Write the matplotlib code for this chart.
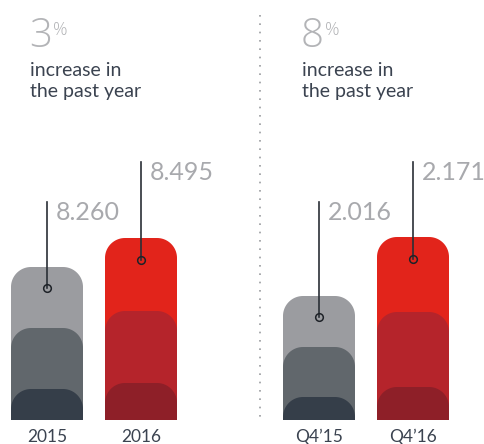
import numpy as np
import matplotlib
matplotlib.use("Agg")
import matplotlib.pyplot as plt
from matplotlib.patches import Polygon

plt.rcParams['font.family'] = ['Lato', 'DejaVu Sans']

# data: two panels, each with previous / current period
categories = ["2015", "2016", "Q4\u201915", "Q4\u201916"]
values = ["8.260", "8.495", "2.016", "2.171"]
headline_pct = ["3", "8"]
# stacked layer tops (drawing units, measured from baseline)
layer_total = [153, 182, 124, 183]
layer_mid = [92, 109, 73, 108]
layer_low = [31, 37, 23, 33]

gray_cols = ["#9b9ca0", "#61676c", "#353e49"]
red_cols = ["#e2241b", "#b5242b", "#8e1f28"]

W, H = 485, 444
fig = plt.figure(figsize=(W / 100, H / 100), dpi=100)
ax = fig.add_axes([0, 0, 1, 1])
ax.set_xlim(0, W)
ax.set_ylim(H, 0)
ax.axis("off")

base = 420
bar_w = 72
bar_x = [11, 105, 283, 377]
radius = 20


def rounded_top(x0, w, h, r, col):
    t = np.linspace(0, np.pi / 2, 20)
    top = base - h
    left = np.column_stack([x0 + r - r * np.cos(t), top + r - r * np.sin(t)])
    right = np.column_stack([x0 + w - r + r * np.sin(t), top + r - r * np.cos(t)])
    pts = np.vstack([[[x0, base]], left, right, [[x0 + w, base]]])
    ax.add_patch(Polygon(pts, closed=True, facecolor=col, edgecolor="none"))


for i in range(4):
    cols = gray_cols if i % 2 == 0 else red_cols
    x0 = bar_x[i]
    rounded_top(x0, bar_w, layer_total[i], radius, cols[0])
    rounded_top(x0, bar_w, layer_mid[i], radius, cols[1])
    rounded_top(x0, bar_w, layer_low[i], radius, cols[2])
    cx = x0 + bar_w / 2
    # pointer line and label
    line_top = 202 if i % 2 == 0 else 162
    dot_y = base - layer_total[i] + 21 if i % 2 == 0 else base - layer_total[i] + 22
    ax.plot([cx, cx], [line_top, dot_y], color="#2a2f36", lw=1.2, zorder=3)
    ax.plot(cx, dot_y, "o", ms=5.5, mfc="none", mec="#1e2228", mew=1.1, zorder=4)
    ax.text(cx + 9, line_top + 10, values[i], fontsize=18, color="#a8a9ad",
            ha="left", va="center")
    ax.text(cx, 437, categories[i], fontsize=12.5, color="#3b4350",
            ha="center", va="center")

# headlines
for j, hx in enumerate([29, 301]):
    ax.text(hx, 47, headline_pct[j], fontsize=29, color="#b3b4b7",
            ha="left", va="baseline", family=["Open Sans", "DejaVu Sans"],
            fontweight="light")
    ax.text(hx + 24, 35, "%", fontsize=13, color="#b3b4b7",
            ha="left", va="baseline", family=["Open Sans", "DejaVu Sans"],
            fontweight="light")
    ax.text(hx + 1, 70, "increase in", fontsize=14, color="#3b4350",
            ha="left", va="center")
    ax.text(hx + 1, 92, "the past year", fontsize=14, color="#3b4350",
            ha="left", va="center")

# dotted separator
ax.plot([260, 260], [15, 420], color="#9a9ca0", lw=1.2, ls=(0, (1, 4)))

fig.savefig("out.png", dpi=100, facecolor="white")
